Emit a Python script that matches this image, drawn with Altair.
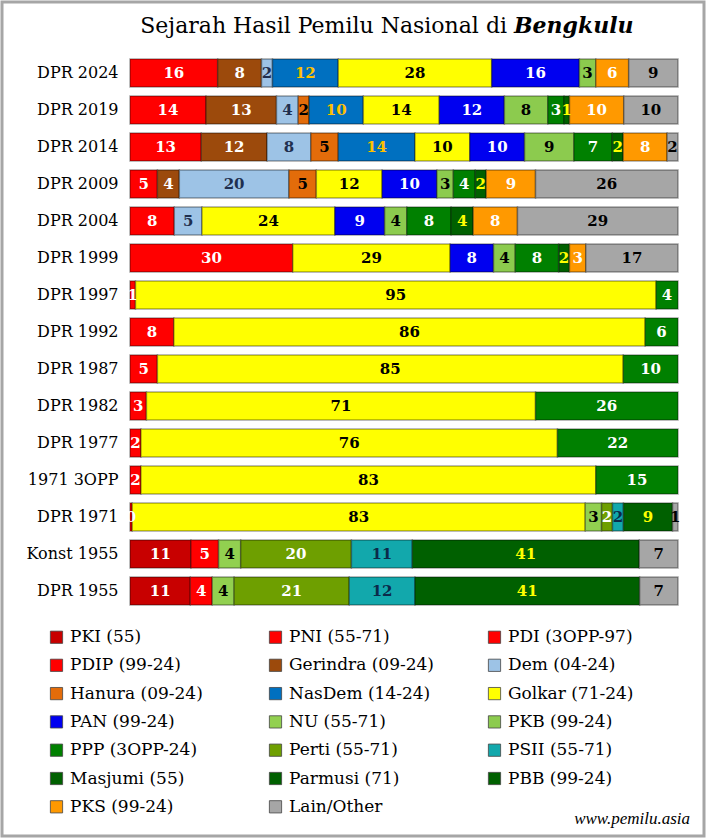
import altair as alt
import pandas as pd

rows = ["DPR 2024", "DPR 2019", "DPR 2014", "DPR 2009", "DPR 2004", "DPR 1999",
        "DPR 1997", "DPR 1992", "DPR 1987", "DPR 1982", "DPR 1977", "1971 3OPP",
        "DPR 1971", "Konst 1955", "DPR 1955"]

parties = ["PKI (55)", "PNI (55-71)", "PDI (3OPP-97)", "PDIP (99-24)", "Gerindra (09-24)",
           "Dem (04-24)", "Hanura (09-24)", "NasDem (14-24)", "Golkar (71-24)", "PAN (99-24)",
           "NU (55-71)", "PKB (99-24)", "PPP (3OPP-24)", "Perti (55-71)", "PSII (55-71)",
           "Masjumi (55)", "Parmusi (71)", "PBB (99-24)", "PKS (99-24)", "Lain/Other"]

colors = ["#C80000", "#FF0000", "#FF0000", "#FF0000", "#9C4A0C",
          "#9DC3E6", "#E36C0A", "#0070C0", "#FFFF00", "#0000F0",
          "#92D050", "#8CCB4E", "#008000", "#6E9F00", "#12A8AC",
          "#006000", "#006000", "#006000", "#FF9900", "#A6A6A6"]

label_colors = ["white", "white", "white", "white", "white",
                "#1F2F4F", "black", "#FFC000", "black", "white",
                "black", "black", "white", "white", "#0B2A4A",
                "#FFFF00", "#FFFF00", "#FFFF00", "white", "black"]

# values per party, aligned with rows (top to bottom)
PKI     = [0, 0, 0, 0, 0, 0, 0, 0, 0, 0, 0, 0, 0, 11, 11]
PNI     = [0, 0, 0, 0, 0, 0, 0, 0, 0, 0, 0, 0, 0.4, 5, 4]
PDI     = [0, 0, 0, 0, 0, 0, 1, 8, 5, 3, 2, 2, 0, 0, 0]
PDIP    = [16, 14, 13, 5, 8, 30, 0, 0, 0, 0, 0, 0, 0, 0, 0]
Gerindra = [8, 13, 12, 4, 0, 0, 0, 0, 0, 0, 0, 0, 0, 0, 0]
Dem     = [2, 4, 8, 20, 5, 0, 0, 0, 0, 0, 0, 0, 0, 0, 0]
Hanura  = [0, 2, 5, 5, 0, 0, 0, 0, 0, 0, 0, 0, 0, 0, 0]
NasDem  = [12, 10, 14, 0, 0, 0, 0, 0, 0, 0, 0, 0, 0, 0, 0]
Golkar  = [28, 14, 10, 12, 24, 29, 95, 86, 85, 71, 76, 83, 83, 0, 0]
PAN     = [16, 12, 10, 10, 9, 8, 0, 0, 0, 0, 0, 0, 0, 0, 0]
NU      = [0, 0, 0, 0, 0, 0, 0, 0, 0, 0, 0, 0, 3, 4, 4]
PKB     = [3, 8, 9, 3, 4, 4, 0, 0, 0, 0, 0, 0, 0, 0, 0]
PPP     = [0, 3, 7, 4, 8, 8, 4, 6, 10, 26, 22, 15, 0, 0, 0]
Perti   = [0, 0, 0, 0, 0, 0, 0, 0, 0, 0, 0, 0, 2, 20, 21]
PSII    = [0, 0, 0, 0, 0, 0, 0, 0, 0, 0, 0, 0, 2, 11, 12]
Masjumi = [0, 0, 0, 0, 0, 0, 0, 0, 0, 0, 0, 0, 0, 41, 41]
Parmusi = [0, 0, 0, 0, 0, 0, 0, 0, 0, 0, 0, 0, 9, 0, 0]
PBB     = [0, 1, 2, 2, 4, 2, 0, 0, 0, 0, 0, 0, 0, 0, 0]
PKS     = [6, 10, 8, 9, 8, 3, 0, 0, 0, 0, 0, 0, 0, 0, 0]
Lain    = [9, 10, 2, 26, 29, 17, 0, 0, 0, 0, 0, 0, 1, 7, 7]

series = [PKI, PNI, PDI, PDIP, Gerindra, Dem, Hanura, NasDem, Golkar, PAN,
          NU, PKB, PPP, Perti, PSII, Masjumi, Parmusi, PBB, PKS, Lain]

records = []
for i, r in enumerate(rows):
    for j, p in enumerate(parties):
        v = series[j][i]
        if v > 0:
            records.append({"row": r, "party": p, "order": j, "value": v,
                            "lc": label_colors[j]})
df = pd.DataFrame(records)

# legend fills column by column; reorder so it reads row by row (3 columns)
NCOL = 3
leg_idx = [k for c in range(NCOL) for k in range(c, len(parties), NCOL)]
leg_domain = [parties[k] for k in leg_idx]
leg_range = [colors[k] for k in leg_idx]

FONT = "DejaVu Serif"

base = alt.Chart(df).transform_stack(
    stack="value", groupby=["row"], as_=["x0", "x1"], offset="normalize",
    sort=[alt.SortField("order", order="ascending")]
)

yenc = alt.Y("row:N", sort=rows,
             scale=alt.Scale(paddingInner=0.24, paddingOuter=0.12),
             axis=alt.Axis(title=None, domain=False, ticks=False, labelPadding=12,
                           labelFont=FONT, labelFontSize=16, labelColor="black"))

bars = base.mark_bar(stroke="black", strokeOpacity=0.35, strokeWidth=1.5).encode(
    y=yenc,
    x=alt.X("x0:Q", scale=alt.Scale(domain=[0, 1], nice=False), axis=None),
    x2="x1:Q",
    color=alt.Color("party:N", scale=alt.Scale(domain=leg_domain, range=leg_range),
                    legend=alt.Legend(title=None, orient="none", legendX=-82, legendY=574,
                                      columns=NCOL, symbolType="square", symbolSize=150,
                                      labelFont=FONT, labelFontSize=17, labelColor="black",
                                      columnPadding=52, rowPadding=10.3, gridAlign="all",
                                      symbolStrokeColor="#444444", symbolStrokeWidth=0.8,
                                      labelLimit=300, labelOffset=5)),
)

text = base.transform_calculate(
    mid="(datum.x0 + datum.x1) / 2",
    lab="format(datum.value, '.0f')"
).mark_text(font=FONT, fontWeight="bold", fontSize=15, baseline="middle").encode(
    y=alt.Y("row:N", sort=rows),
    x=alt.X("mid:Q"),
    text="lab:N",
    color=alt.Color("lc:N", scale=None),
)

one = pd.DataFrame({"a": [0]})
frame = alt.Chart(one).mark_rect(fillOpacity=0, stroke="#A6A6A6", strokeWidth=3).encode(
    x=alt.value(-128), x2=alt.value(574), y=alt.value(-52.5), y2=alt.value(781.5))

title1 = alt.Chart(one).mark_text(font=FONT, fontSize=22, align="right", baseline="middle",
                                  color="black").encode(
    x=alt.value(377), y=alt.value(-29), text=alt.value("Sejarah Hasil Pemilu Nasional di"))
title2 = alt.Chart(one).mark_text(font=FONT, fontSize=22, fontWeight="bold", fontStyle="italic",
                                  align="left", baseline="middle", color="black").encode(
    x=alt.value(384), y=alt.value(-29), text=alt.value("Bengkulu"))
mark_wm = alt.Chart(one).mark_text(font="Liberation Serif", fontSize=17, fontStyle="italic",
                                   align="right", baseline="middle", color="black").encode(
    x=alt.value(560), y=alt.value(764), text=alt.value("www.pemilu.asia"))

chart = alt.layer(frame, bars, text, title1, title2, mark_wm).properties(
    width=548, height=555,
    padding={"left": 130, "top": 54.5, "right": 29, "bottom": 229.5},
    autosize=alt.AutoSizeParams(type="none"),
    background="white",
).configure_view(stroke=None)

chart.save("out.html", embed_options={"renderer": "svg", "actions": False})
